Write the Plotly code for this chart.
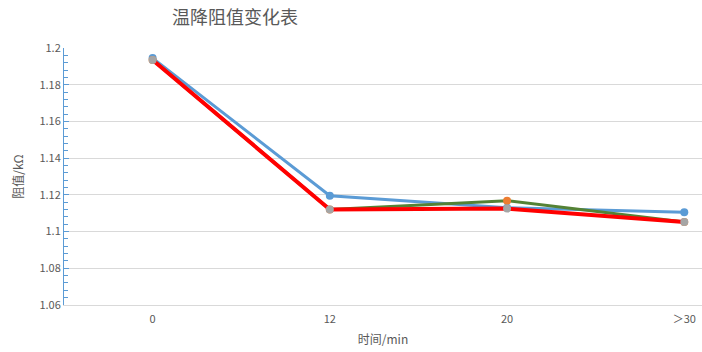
import plotly.graph_objects as go

categories = ["0", "12", "20", "＞30"]
series_a = [1.1945, 1.1195, 1.1130, 1.1105]
series_b = [1.1935, 1.1120, 1.1168, 1.1052]
series_c = [1.1935, 1.1120, 1.1125, 1.1052]

x_idx = list(range(len(categories)))

fig = go.Figure()
fig.add_trace(go.Scatter(x=x_idx, y=series_a, mode="lines+markers",
                         line=dict(color="#5b9bd5", width=3),
                         marker=dict(color="#5b9bd5", size=8), name="A"))
fig.add_trace(go.Scatter(x=x_idx, y=series_b, mode="lines+markers",
                         line=dict(color="#548235", width=3),
                         marker=dict(color="#ed7d31", size=8), name="B"))
fig.add_trace(go.Scatter(x=x_idx, y=series_c, mode="lines+markers",
                         line=dict(color="#ff0000", width=4),
                         marker=dict(color="#a5a5a5", size=8), name="C"))

font_family = "Noto Sans CJK SC, Noto Sans, sans-serif"
fig.update_layout(
    width=702, height=352,
    margin=dict(l=64, r=0, t=48, b=47),
    paper_bgcolor="white", plot_bgcolor="white",
    showlegend=False,
    font=dict(family=font_family, color="#595959", size=11),
    title=dict(text="温降阻值变化表", x=235 / 702, xanchor="center",
               y=1 - 18 / 352, yanchor="middle",
               font=dict(size=18, color="#595959", family=font_family)),
    xaxis=dict(range=[-0.5, 3.1], tickmode="array", tickvals=x_idx,
               ticktext=categories, showgrid=False, zeroline=False,
               showline=True, linecolor="#d9d9d9", linewidth=1,
               ticks="", ticklabelstandoff=4,
               tickfont=dict(size=11, color="#595959"),
               title=dict(text="时间/min", font=dict(size=12, color="#595959"),
                          standoff=10)),
    yaxis=dict(range=[1.06, 1.2], dtick=0.02, tick0=1.06,
               showgrid=True, gridcolor="#d9d9d9", gridwidth=1,
               zeroline=False, showline=True, linecolor="#5b9bd5", linewidth=1,
               ticks="inside", ticklen=5, tickcolor="#5b9bd5",
               minor=dict(dtick=0.004, ticks="inside", ticklen=4,
                          tickcolor="#5b9bd5", showgrid=False),
               tickfont=dict(size=11, color="#595959"),
               title=dict(text="阻值/kΩ", font=dict(size=12, color="#595959"),
                          standoff=13)),
)

fig.write_html("out.html")
